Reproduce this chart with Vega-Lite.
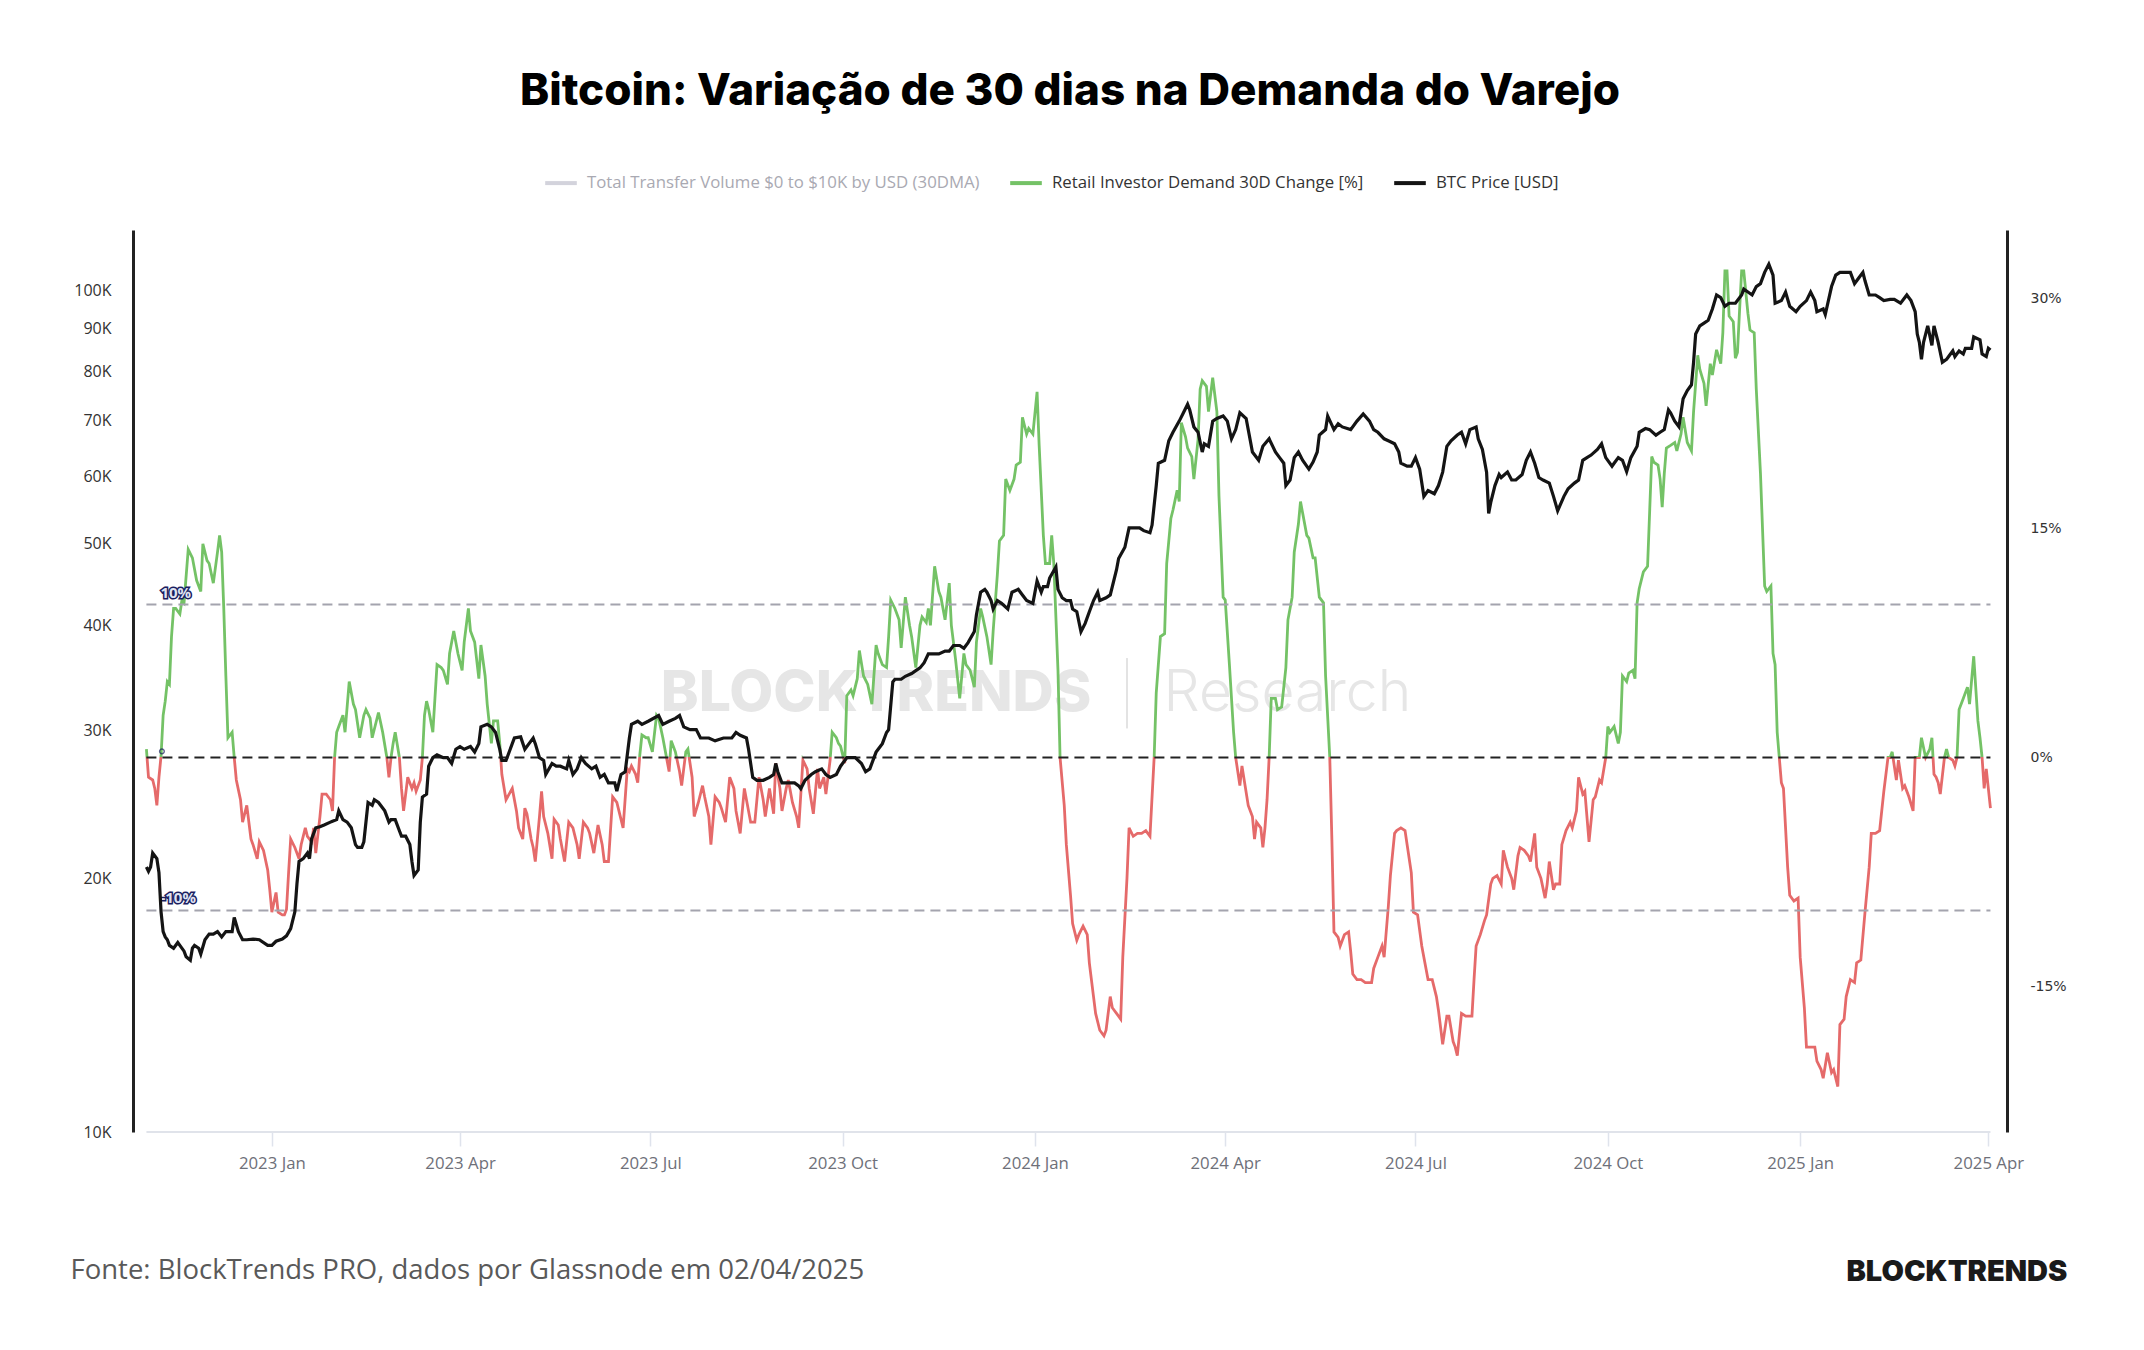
{
  "$schema": "https://vega.github.io/schema/vega-lite/v6.json",
  "width": 1874,
  "height": 902,
  "autosize": {"type": "none"},
  "padding": {"left": 133, "top": 230, "right": 137, "bottom": 218},
  "background": "#ffffff",
  "config": {
    "view": {"stroke": null},
    "axis": {"labelFlush": false, "labelBound": false}
  },
  "title": {
    "text": "Bitcoin: Variação de 30 dias na Demanda do Varejo",
    "font": "Inter",
    "fontSize": 44,
    "fontWeight": 800,
    "color": "#000000",
    "anchor": "middle",
    "frame": "group",
    "offset": 51
  },
  "datasets": {
    "price": [
      {"date":"2022-11-02","price":20640},{"date":"2022-11-03","price":20400},{"date":"2022-11-04","price":20640},{"date":"2022-11-05","price":21450},{"date":"2022-11-07","price":21120},{"date":"2022-11-08","price":20330},{"date":"2022-11-09","price":18260},{"date":"2022-11-10","price":17300},{"date":"2022-11-11","price":17050},{"date":"2022-11-12","price":16920},{"date":"2022-11-13","price":16660},{"date":"2022-11-15","price":16530},{"date":"2022-11-17","price":16790},{"date":"2022-11-18","price":16660},{"date":"2022-11-20","price":16400},{"date":"2022-11-21","price":16150},{"date":"2022-11-23","price":16000},{"date":"2022-11-24","price":16530},{"date":"2022-11-25","price":16660},{"date":"2022-11-27","price":16530},{"date":"2022-11-28","price":16270},{"date":"2022-11-30","price":16920},
      {"date":"2022-12-02","price":17180},{"date":"2022-12-04","price":17180},{"date":"2022-12-06","price":17300},{"date":"2022-12-08","price":17050},{"date":"2022-12-10","price":17300},{"date":"2022-12-13","price":17300},{"date":"2022-12-14","price":17980},{"date":"2022-12-16","price":17300},{"date":"2022-12-18","price":16920},{"date":"2022-12-20","price":16920},{"date":"2022-12-23","price":16950},{"date":"2022-12-26","price":16920},{"date":"2022-12-30","price":16660},
      {"date":"2023-01-01","price":16660},{"date":"2023-01-03","price":16850},{"date":"2023-01-06","price":16950},{"date":"2023-01-08","price":17100},{"date":"2023-01-10","price":17440},{"date":"2023-01-12","price":18260},{"date":"2023-01-13","price":19710},{"date":"2023-01-14","price":20960},{"date":"2023-01-16","price":21120},{"date":"2023-01-18","price":21450},{"date":"2023-01-19","price":21120},{"date":"2023-01-20","price":22290},{"date":"2023-01-22","price":22980},{"date":"2023-01-24","price":23050},{"date":"2023-01-26","price":23160},{"date":"2023-01-29","price":23340},{"date":"2023-01-30","price":23400},
      {"date":"2023-02-01","price":23500},{"date":"2023-02-02","price":24070},{"date":"2023-02-04","price":23500},{"date":"2023-02-06","price":23340},{"date":"2023-02-08","price":22980},{"date":"2023-02-10","price":21950},{"date":"2023-02-11","price":21780},{"date":"2023-02-13","price":21780},{"date":"2023-02-14","price":22120},{"date":"2023-02-16","price":24630},{"date":"2023-02-18","price":24440},{"date":"2023-02-19","price":24820},{"date":"2023-02-21","price":24630},{"date":"2023-02-22","price":24440},{"date":"2023-02-24","price":24070},{"date":"2023-02-26","price":23340},{"date":"2023-02-27","price":23500},
      {"date":"2023-03-01","price":23500},{"date":"2023-03-03","price":22800},{"date":"2023-03-04","price":22460},{"date":"2023-03-06","price":22460},{"date":"2023-03-08","price":21950},{"date":"2023-03-09","price":20960},{"date":"2023-03-10","price":20170},{"date":"2023-03-12","price":20480},{"date":"2023-03-13","price":23340},{"date":"2023-03-14","price":25000},{"date":"2023-03-16","price":25200},{"date":"2023-03-17","price":27200},{"date":"2023-03-19","price":27840},{"date":"2023-03-21","price":28050},{"date":"2023-03-24","price":27840},{"date":"2023-03-26","price":27840},{"date":"2023-03-28","price":27400},{"date":"2023-03-30","price":28490},
      {"date":"2023-04-01","price":28700},{"date":"2023-04-03","price":28490},{"date":"2023-04-06","price":28700},{"date":"2023-04-08","price":28270},{"date":"2023-04-10","price":28930},{"date":"2023-04-11","price":30290},{"date":"2023-04-14","price":30500},{"date":"2023-04-16","price":30290},{"date":"2023-04-18","price":29830},{"date":"2023-04-20","price":28490},{"date":"2023-04-21","price":27630},{"date":"2023-04-23","price":27630},{"date":"2023-04-27","price":29380},{"date":"2023-04-30","price":29470},
      {"date":"2023-05-02","price":28490},{"date":"2023-05-04","price":28930},{"date":"2023-05-06","price":29380},{"date":"2023-05-07","price":28930},{"date":"2023-05-09","price":27840},{"date":"2023-05-11","price":27630},{"date":"2023-05-12","price":26590},{"date":"2023-05-15","price":27400},{"date":"2023-05-17","price":27200},{"date":"2023-05-19","price":27200},{"date":"2023-05-22","price":27000},{"date":"2023-05-23","price":27630},{"date":"2023-05-25","price":26590},{"date":"2023-05-27","price":27000},{"date":"2023-05-29","price":27840},{"date":"2023-05-31","price":27400},
      {"date":"2023-06-03","price":27000},{"date":"2023-06-05","price":27200},{"date":"2023-06-07","price":26380},{"date":"2023-06-09","price":26590},{"date":"2023-06-11","price":25980},{"date":"2023-06-14","price":25980},{"date":"2023-06-15","price":25400},{"date":"2023-06-17","price":26590},{"date":"2023-06-19","price":26790},{"date":"2023-06-21","price":29380},{"date":"2023-06-22","price":30500},{"date":"2023-06-25","price":30760},{"date":"2023-06-27","price":30500},{"date":"2023-06-30","price":30760},
      {"date":"2023-07-05","price":31240},{"date":"2023-07-07","price":30500},{"date":"2023-07-10","price":30760},{"date":"2023-07-13","price":31000},{"date":"2023-07-15","price":31240},{"date":"2023-07-17","price":30290},{"date":"2023-07-20","price":30060},{"date":"2023-07-23","price":30060},{"date":"2023-07-25","price":29380},{"date":"2023-07-29","price":29380},
      {"date":"2023-08-01","price":29150},{"date":"2023-08-05","price":29380},{"date":"2023-08-09","price":29380},{"date":"2023-08-11","price":29830},{"date":"2023-08-13","price":29600},{"date":"2023-08-16","price":29380},{"date":"2023-08-17","price":28490},{"date":"2023-08-19","price":26380},{"date":"2023-08-21","price":26170},{"date":"2023-08-24","price":26170},{"date":"2023-08-27","price":26380},{"date":"2023-08-29","price":26590},{"date":"2023-08-30","price":27400},{"date":"2023-08-31","price":26790},
      {"date":"2023-09-02","price":25980},{"date":"2023-09-05","price":25980},{"date":"2023-09-08","price":25980},{"date":"2023-09-10","price":25770},{"date":"2023-09-11","price":25570},{"date":"2023-09-13","price":26170},{"date":"2023-09-16","price":26590},{"date":"2023-09-18","price":26790},{"date":"2023-09-21","price":27000},{"date":"2023-09-23","price":26590},{"date":"2023-09-25","price":26380},{"date":"2023-09-28","price":26590},{"date":"2023-09-30","price":27200},
      {"date":"2023-10-03","price":27840},{"date":"2023-10-05","price":27840},{"date":"2023-10-07","price":27840},{"date":"2023-10-10","price":27400},{"date":"2023-10-12","price":26790},{"date":"2023-10-14","price":27000},{"date":"2023-10-16","price":27840},{"date":"2023-10-17","price":28270},{"date":"2023-10-18","price":28490},{"date":"2023-10-20","price":28930},{"date":"2023-10-22","price":29830},{"date":"2023-10-23","price":30060},{"date":"2023-10-25","price":34250},{"date":"2023-10-26","price":34500},{"date":"2023-10-29","price":34500},{"date":"2023-10-31","price":34780},
      {"date":"2023-11-03","price":35050},{"date":"2023-11-05","price":35320},{"date":"2023-11-07","price":35590},{"date":"2023-11-09","price":36100},{"date":"2023-11-11","price":36980},{"date":"2023-11-14","price":36980},{"date":"2023-11-16","price":36980},{"date":"2023-11-19","price":37270},{"date":"2023-11-21","price":37270},{"date":"2023-11-23","price":37840},{"date":"2023-11-26","price":37840},{"date":"2023-11-28","price":37550},{"date":"2023-11-30","price":38140},
      {"date":"2023-12-03","price":39320},{"date":"2023-12-04","price":41170},{"date":"2023-12-06","price":43780},{"date":"2023-12-08","price":44120},{"date":"2023-12-09","price":43780},{"date":"2023-12-11","price":42790},{"date":"2023-12-12","price":41810},{"date":"2023-12-14","price":42790},{"date":"2023-12-16","price":42460},{"date":"2023-12-19","price":41810},{"date":"2023-12-21","price":43780},{"date":"2023-12-24","price":44120},{"date":"2023-12-26","price":43450},{"date":"2023-12-28","price":42790},{"date":"2023-12-31","price":42460},
      {"date":"2024-01-02","price":45150},{"date":"2024-01-04","price":43780},{"date":"2024-01-05","price":44460},{"date":"2024-01-07","price":44460},{"date":"2024-01-08","price":45500},{"date":"2024-01-11","price":46900},{"date":"2024-01-12","price":44120},{"date":"2024-01-14","price":43120},{"date":"2024-01-16","price":42790},{"date":"2024-01-18","price":42790},{"date":"2024-01-19","price":41810},{"date":"2024-01-21","price":41500},{"date":"2024-01-23","price":39300},{"date":"2024-01-25","price":40200},{"date":"2024-01-27","price":41500},{"date":"2024-01-29","price":42790},{"date":"2024-01-31","price":43780},
      {"date":"2024-02-01","price":42790},{"date":"2024-02-04","price":43120},{"date":"2024-02-06","price":43450},{"date":"2024-02-09","price":46550},{"date":"2024-02-10","price":48000},{"date":"2024-02-13","price":49500},{"date":"2024-02-15","price":52200},{"date":"2024-02-17","price":52200},{"date":"2024-02-20","price":52200},{"date":"2024-02-22","price":51800},{"date":"2024-02-25","price":51500},{"date":"2024-02-26","price":52600},{"date":"2024-02-28","price":58600},{"date":"2024-02-29","price":62300},
      {"date":"2024-03-03","price":62800},{"date":"2024-03-05","price":66250},{"date":"2024-03-07","price":67800},{"date":"2024-03-10","price":69900},{"date":"2024-03-12","price":71500},{"date":"2024-03-14","price":73200},{"date":"2024-03-15","price":72100},{"date":"2024-03-17","price":68800},{"date":"2024-03-19","price":67800},{"date":"2024-03-21","price":64240},{"date":"2024-03-22","price":65700},{"date":"2024-03-24","price":65240},{"date":"2024-03-26","price":69900},{"date":"2024-03-28","price":70400},{"date":"2024-03-31","price":70900},
      {"date":"2024-04-02","price":69900},{"date":"2024-04-04","price":66600},{"date":"2024-04-06","price":68300},{"date":"2024-04-08","price":71500},{"date":"2024-04-11","price":70400},{"date":"2024-04-13","price":66250},{"date":"2024-04-14","price":64240},{"date":"2024-04-17","price":62800},{"date":"2024-04-19","price":65240},{"date":"2024-04-22","price":66600},{"date":"2024-04-25","price":64240},{"date":"2024-04-27","price":63260},{"date":"2024-04-29","price":62300},{"date":"2024-04-30","price":58600},
      {"date":"2024-05-02","price":59500},{"date":"2024-05-04","price":63260},{"date":"2024-05-06","price":64240},{"date":"2024-05-08","price":62800},{"date":"2024-05-11","price":61300},{"date":"2024-05-13","price":62500},{"date":"2024-05-15","price":64240},{"date":"2024-05-16","price":67300},{"date":"2024-05-19","price":68300},{"date":"2024-05-20","price":70900},{"date":"2024-05-23","price":68300},{"date":"2024-05-25","price":69400},{"date":"2024-05-27","price":68800},{"date":"2024-05-31","price":68300},
      {"date":"2024-06-03","price":69900},{"date":"2024-06-06","price":71300},{"date":"2024-06-09","price":69900},{"date":"2024-06-11","price":68300},{"date":"2024-06-13","price":67800},{"date":"2024-06-16","price":66600},{"date":"2024-06-18","price":66250},{"date":"2024-06-21","price":65700},{"date":"2024-06-23","price":64240},{"date":"2024-06-24","price":62300},{"date":"2024-06-27","price":61800},{"date":"2024-06-29","price":61800},
      {"date":"2024-07-01","price":63260},{"date":"2024-07-03","price":61300},{"date":"2024-07-05","price":56900},{"date":"2024-07-07","price":57800},{"date":"2024-07-10","price":57300},{"date":"2024-07-12","price":58600},{"date":"2024-07-14","price":60800},{"date":"2024-07-16","price":65240},{"date":"2024-07-18","price":66250},{"date":"2024-07-21","price":67300},{"date":"2024-07-23","price":67800},{"date":"2024-07-25","price":65700},{"date":"2024-07-27","price":68300},{"date":"2024-07-30","price":68800},{"date":"2024-07-31","price":66600},
      {"date":"2024-08-02","price":64700},{"date":"2024-08-04","price":60800},{"date":"2024-08-05","price":54300},{"date":"2024-08-06","price":55960},{"date":"2024-08-08","price":58600},{"date":"2024-08-10","price":60400},{"date":"2024-08-11","price":59900},{"date":"2024-08-14","price":60800},{"date":"2024-08-16","price":59500},{"date":"2024-08-18","price":59500},{"date":"2024-08-21","price":60400},{"date":"2024-08-23","price":62800},{"date":"2024-08-25","price":64240},{"date":"2024-08-27","price":62300},{"date":"2024-08-29","price":59900},{"date":"2024-08-31","price":59500},
      {"date":"2024-09-03","price":59000},{"date":"2024-09-05","price":56900},{"date":"2024-09-07","price":54700},{"date":"2024-09-10","price":56900},{"date":"2024-09-12","price":58100},{"date":"2024-09-15","price":59000},{"date":"2024-09-17","price":59500},{"date":"2024-09-19","price":62800},{"date":"2024-09-21","price":63260},{"date":"2024-09-23","price":63700},{"date":"2024-09-26","price":64700},{"date":"2024-09-28","price":65700},{"date":"2024-09-30","price":63260},
      {"date":"2024-10-03","price":61800},{"date":"2024-10-04","price":62300},{"date":"2024-10-06","price":63260},{"date":"2024-10-08","price":62800},{"date":"2024-10-10","price":60860},{"date":"2024-10-12","price":63260},{"date":"2024-10-15","price":65240},{"date":"2024-10-16","price":67800},{"date":"2024-10-19","price":68500},{"date":"2024-10-21","price":68300},{"date":"2024-10-24","price":67270},{"date":"2024-10-26","price":67800},{"date":"2024-10-28","price":68300},{"date":"2024-10-30","price":72070},{"date":"2024-10-31","price":71500},
      {"date":"2024-11-02","price":69900},{"date":"2024-11-04","price":68840},{"date":"2024-11-06","price":74300},{"date":"2024-11-08","price":76000},{"date":"2024-11-10","price":77200},{"date":"2024-11-11","price":82100},{"date":"2024-11-12","price":88700},{"date":"2024-11-14","price":90700},{"date":"2024-11-16","price":91400},{"date":"2024-11-18","price":92100},{"date":"2024-11-20","price":95000},{"date":"2024-11-22","price":98700},{"date":"2024-11-24","price":98000},{"date":"2024-11-26","price":95700},{"date":"2024-11-28","price":96500},{"date":"2024-11-29","price":96500},
      {"date":"2024-12-01","price":96500},{"date":"2024-12-04","price":98700},{"date":"2024-12-05","price":100300},{"date":"2024-12-07","price":99500},{"date":"2024-12-09","price":98700},{"date":"2024-12-11","price":101000},{"date":"2024-12-13","price":101800},{"date":"2024-12-15","price":105000},{"date":"2024-12-17","price":107400},{"date":"2024-12-19","price":104200},{"date":"2024-12-20","price":96500},{"date":"2024-12-23","price":97200},{"date":"2024-12-25","price":99500},{"date":"2024-12-27","price":95700},{"date":"2024-12-30","price":94300},
      {"date":"2025-01-01","price":95700},{"date":"2025-01-04","price":97200},{"date":"2025-01-06","price":99500},{"date":"2025-01-08","price":97200},{"date":"2025-01-09","price":94300},{"date":"2025-01-12","price":95000},{"date":"2025-01-13","price":93570},{"date":"2025-01-16","price":101000},{"date":"2025-01-18","price":104200},{"date":"2025-01-20","price":105000},{"date":"2025-01-23","price":105000},{"date":"2025-01-25","price":105000},{"date":"2025-01-27","price":101800},{"date":"2025-01-29","price":103400},{"date":"2025-01-31","price":105000},
      {"date":"2025-02-01","price":102600},{"date":"2025-02-03","price":98700},{"date":"2025-02-06","price":98700},{"date":"2025-02-08","price":98000},{"date":"2025-02-10","price":97200},{"date":"2025-02-13","price":97500},{"date":"2025-02-15","price":97500},{"date":"2025-02-18","price":96500},{"date":"2025-02-21","price":98700},{"date":"2025-02-23","price":97200},{"date":"2025-02-25","price":94300},{"date":"2025-02-26","price":88700},{"date":"2025-02-27","price":86700},{"date":"2025-02-28","price":82760},
      {"date":"2025-03-01","price":86700},{"date":"2025-03-03","price":90700},{"date":"2025-03-05","price":86000},{"date":"2025-03-06","price":90700},{"date":"2025-03-07","price":88700},{"date":"2025-03-08","price":86700},{"date":"2025-03-10","price":82100},{"date":"2025-03-12","price":82760},{"date":"2025-03-13","price":83400},{"date":"2025-03-15","price":84700},{"date":"2025-03-16","price":83400},{"date":"2025-03-18","price":84700},{"date":"2025-03-20","price":84000},{"date":"2025-03-21","price":85300},{"date":"2025-03-24","price":85300},{"date":"2025-03-25","price":88000},{"date":"2025-03-28","price":87300},{"date":"2025-03-29","price":84000},{"date":"2025-03-31","price":83400},{"date":"2025-04-01","price":85300},{"date":"2025-04-02","price":84900}
    ],
    "demand": [
      {"date":"2022-11-02","pct":0.55},{"date":"2022-11-03","pct":-1.29},{"date":"2022-11-05","pct":-1.47},{"date":"2022-11-06","pct":-2.02},{"date":"2022-11-07","pct":-3.13},{"date":"2022-11-08","pct":-1.29},{"date":"2022-11-09","pct":0.1},{"date":"2022-11-10","pct":2.76},{"date":"2022-11-11","pct":3.68},{"date":"2022-11-12","pct":4.96},{"date":"2022-11-13","pct":4.78},{"date":"2022-11-14","pct":7.9},{"date":"2022-11-15","pct":9.74},{"date":"2022-11-16","pct":9.74},{"date":"2022-11-18","pct":9.38},{"date":"2022-11-19","pct":10.29},{"date":"2022-11-20","pct":10.11},{"date":"2022-11-22","pct":13.6},{"date":"2022-11-24","pct":13.05},{"date":"2022-11-26","pct":11.58},{"date":"2022-11-28","pct":10.85},{"date":"2022-11-29","pct":13.97},
      {"date":"2022-12-01","pct":12.87},{"date":"2022-12-02","pct":12.68},{"date":"2022-12-04","pct":11.4},{"date":"2022-12-06","pct":13.42},{"date":"2022-12-07","pct":14.52},{"date":"2022-12-08","pct":13.42},{"date":"2022-12-09","pct":9.74},{"date":"2022-12-10","pct":5.33},{"date":"2022-12-11","pct":1.29},{"date":"2022-12-13","pct":1.65},{"date":"2022-12-14","pct":0},{"date":"2022-12-15","pct":-1.47},{"date":"2022-12-17","pct":-2.76},{"date":"2022-12-18","pct":-4.23},{"date":"2022-12-20","pct":-3.13},{"date":"2022-12-22","pct":-5.33},{"date":"2022-12-23","pct":-5.7},{"date":"2022-12-25","pct":-6.62},{"date":"2022-12-26","pct":-5.51},{"date":"2022-12-28","pct":-6.07},{"date":"2022-12-30","pct":-7.35},{"date":"2022-12-31","pct":-8.64},
      {"date":"2023-01-01","pct":-10.11},{"date":"2023-01-03","pct":-8.82},{"date":"2023-01-04","pct":-10.11},{"date":"2023-01-06","pct":-10.29},{"date":"2023-01-07","pct":-10.29},{"date":"2023-01-08","pct":-9.93},{"date":"2023-01-09","pct":-7.54},{"date":"2023-01-10","pct":-5.33},{"date":"2023-01-12","pct":-5.88},{"date":"2023-01-14","pct":-6.62},{"date":"2023-01-15","pct":-5.7},{"date":"2023-01-17","pct":-4.6},{"date":"2023-01-18","pct":-5.15},{"date":"2023-01-20","pct":-5.51},{"date":"2023-01-21","pct":-4.6},{"date":"2023-01-22","pct":-6.25},{"date":"2023-01-24","pct":-3.86},{"date":"2023-01-25","pct":-2.39},{"date":"2023-01-27","pct":-2.39},{"date":"2023-01-29","pct":-2.76},{"date":"2023-01-30","pct":-3.49},{"date":"2023-01-31","pct":0},
      {"date":"2023-02-01","pct":1.65},{"date":"2023-02-02","pct":2.02},{"date":"2023-02-04","pct":2.76},{"date":"2023-02-05","pct":1.65},{"date":"2023-02-07","pct":4.96},{"date":"2023-02-09","pct":3.49},{"date":"2023-02-10","pct":3.13},{"date":"2023-02-12","pct":1.29},{"date":"2023-02-14","pct":2.76},{"date":"2023-02-15","pct":3.13},{"date":"2023-02-17","pct":2.57},{"date":"2023-02-18","pct":1.29},{"date":"2023-02-21","pct":2.94},{"date":"2023-02-23","pct":1.65},{"date":"2023-02-25","pct":0},{"date":"2023-02-26","pct":-1.29},{"date":"2023-02-27","pct":0},{"date":"2023-02-28","pct":0.92},
      {"date":"2023-03-01","pct":1.65},{"date":"2023-03-03","pct":0},{"date":"2023-03-04","pct":-2.02},{"date":"2023-03-05","pct":-3.49},{"date":"2023-03-07","pct":-1.29},{"date":"2023-03-09","pct":-2.02},{"date":"2023-03-10","pct":-1.65},{"date":"2023-03-11","pct":-2.21},{"date":"2023-03-13","pct":-1.47},{"date":"2023-03-14","pct":0},{"date":"2023-03-15","pct":2.76},{"date":"2023-03-16","pct":3.68},{"date":"2023-03-17","pct":3.13},{"date":"2023-03-19","pct":1.65},{"date":"2023-03-20","pct":3.86},{"date":"2023-03-21","pct":6.07},{"date":"2023-03-23","pct":5.88},{"date":"2023-03-24","pct":5.7},{"date":"2023-03-26","pct":4.78},{"date":"2023-03-27","pct":6.8},{"date":"2023-03-29","pct":8.27},{"date":"2023-03-30","pct":7.54},{"date":"2023-03-31","pct":6.8},
      {"date":"2023-04-02","pct":5.7},{"date":"2023-04-03","pct":7.54},{"date":"2023-04-05","pct":9.74},{"date":"2023-04-06","pct":8.27},{"date":"2023-04-08","pct":7.54},{"date":"2023-04-10","pct":5.15},{"date":"2023-04-11","pct":7.35},{"date":"2023-04-13","pct":5.33},{"date":"2023-04-14","pct":3.49},{"date":"2023-04-16","pct":0.92},{"date":"2023-04-17","pct":2.39},{"date":"2023-04-19","pct":2.39},{"date":"2023-04-20","pct":0.92},{"date":"2023-04-21","pct":-1.1},{"date":"2023-04-23","pct":-2.76},{"date":"2023-04-26","pct":-2.02},{"date":"2023-04-28","pct":-3.49},{"date":"2023-04-29","pct":-4.6},
      {"date":"2023-05-01","pct":-5.33},{"date":"2023-05-02","pct":-3.31},{"date":"2023-05-03","pct":-3.68},{"date":"2023-05-05","pct":-5.33},{"date":"2023-05-06","pct":-5.88},{"date":"2023-05-07","pct":-6.8},{"date":"2023-05-09","pct":-3.86},{"date":"2023-05-10","pct":-2.21},{"date":"2023-05-11","pct":-3.86},{"date":"2023-05-13","pct":-4.96},{"date":"2023-05-15","pct":-6.62},{"date":"2023-05-16","pct":-4.04},{"date":"2023-05-18","pct":-4.41},{"date":"2023-05-19","pct":-5.33},{"date":"2023-05-21","pct":-6.8},{"date":"2023-05-23","pct":-4.23},{"date":"2023-05-25","pct":-4.6},{"date":"2023-05-27","pct":-5.7},{"date":"2023-05-28","pct":-6.62},{"date":"2023-05-30","pct":-4.23},
      {"date":"2023-06-01","pct":-4.6},{"date":"2023-06-02","pct":-4.96},{"date":"2023-06-04","pct":-6.25},{"date":"2023-06-06","pct":-4.41},{"date":"2023-06-08","pct":-5.7},{"date":"2023-06-09","pct":-6.8},{"date":"2023-06-11","pct":-6.8},{"date":"2023-06-13","pct":-2.57},{"date":"2023-06-15","pct":-2.94},{"date":"2023-06-16","pct":-3.49},{"date":"2023-06-18","pct":-4.6},{"date":"2023-06-20","pct":-0.74},{"date":"2023-06-21","pct":-0.92},{"date":"2023-06-22","pct":-0.55},{"date":"2023-06-24","pct":-1.1},{"date":"2023-06-25","pct":-1.65},{"date":"2023-06-26","pct":0.18},{"date":"2023-06-27","pct":1.47},{"date":"2023-06-29","pct":1.29},{"date":"2023-06-30","pct":1.29},
      {"date":"2023-07-02","pct":0.37},{"date":"2023-07-04","pct":2.76},{"date":"2023-07-05","pct":2.57},{"date":"2023-07-07","pct":1.29},{"date":"2023-07-08","pct":0.55},{"date":"2023-07-10","pct":-0.92},{"date":"2023-07-11","pct":1.1},{"date":"2023-07-13","pct":0.37},{"date":"2023-07-15","pct":-0.92},{"date":"2023-07-16","pct":-1.84},{"date":"2023-07-18","pct":0.37},{"date":"2023-07-19","pct":0.55},{"date":"2023-07-21","pct":-1.29},{"date":"2023-07-22","pct":-3.86},{"date":"2023-07-24","pct":-2.94},{"date":"2023-07-26","pct":-1.84},{"date":"2023-07-27","pct":-2.57},{"date":"2023-07-29","pct":-3.86},{"date":"2023-07-30","pct":-5.7},
      {"date":"2023-08-01","pct":-2.57},{"date":"2023-08-03","pct":-2.94},{"date":"2023-08-04","pct":-3.31},{"date":"2023-08-06","pct":-4.23},{"date":"2023-08-08","pct":-1.29},{"date":"2023-08-10","pct":-2.02},{"date":"2023-08-11","pct":-3.49},{"date":"2023-08-13","pct":-4.96},{"date":"2023-08-15","pct":-2.02},{"date":"2023-08-16","pct":-2.76},{"date":"2023-08-18","pct":-4.23},{"date":"2023-08-20","pct":-4.23},{"date":"2023-08-22","pct":-1.29},{"date":"2023-08-24","pct":-2.76},{"date":"2023-08-25","pct":-3.86},{"date":"2023-08-27","pct":-2.02},{"date":"2023-08-29","pct":-3.68},{"date":"2023-08-30","pct":-0.37},
      {"date":"2023-09-01","pct":-2.02},{"date":"2023-09-02","pct":-3.49},{"date":"2023-09-04","pct":-2.02},{"date":"2023-09-05","pct":-1.47},{"date":"2023-09-07","pct":-2.94},{"date":"2023-09-09","pct":-3.86},{"date":"2023-09-10","pct":-4.6},{"date":"2023-09-12","pct":-0.18},{"date":"2023-09-14","pct":-0.74},{"date":"2023-09-15","pct":-2.02},{"date":"2023-09-17","pct":-3.68},{"date":"2023-09-19","pct":-0.74},{"date":"2023-09-20","pct":-2.02},{"date":"2023-09-22","pct":-1.29},{"date":"2023-09-23","pct":-2.39},{"date":"2023-09-25","pct":-0.18},{"date":"2023-09-26","pct":1.65},{"date":"2023-09-28","pct":1.29},{"date":"2023-09-29","pct":0.92},{"date":"2023-09-30","pct":0.74},
      {"date":"2023-10-02","pct":-0.37},{"date":"2023-10-03","pct":4.04},{"date":"2023-10-05","pct":4.41},{"date":"2023-10-06","pct":4.04},{"date":"2023-10-08","pct":5.15},{"date":"2023-10-09","pct":6.99},{"date":"2023-10-11","pct":5.33},{"date":"2023-10-13","pct":4.78},{"date":"2023-10-15","pct":3.49},{"date":"2023-10-17","pct":7.35},{"date":"2023-10-18","pct":6.8},{"date":"2023-10-20","pct":6.07},{"date":"2023-10-22","pct":5.88},{"date":"2023-10-23","pct":7.9},{"date":"2023-10-24","pct":10.29},{"date":"2023-10-26","pct":9.74},{"date":"2023-10-28","pct":9.0},{"date":"2023-10-29","pct":7.17},{"date":"2023-10-31","pct":10.48},
      {"date":"2023-11-02","pct":8.64},{"date":"2023-11-03","pct":7.9},{"date":"2023-11-05","pct":5.88},{"date":"2023-11-07","pct":8.64},{"date":"2023-11-08","pct":9.19},{"date":"2023-11-10","pct":8.82},{"date":"2023-11-11","pct":9.74},{"date":"2023-11-12","pct":8.64},{"date":"2023-11-14","pct":12.5},{"date":"2023-11-16","pct":10.85},{"date":"2023-11-17","pct":10.48},{"date":"2023-11-19","pct":9.0},{"date":"2023-11-21","pct":11.4},{"date":"2023-11-22","pct":8.64},{"date":"2023-11-24","pct":6.43},{"date":"2023-11-26","pct":3.86},{"date":"2023-11-28","pct":6.8},{"date":"2023-11-29","pct":6.07},
      {"date":"2023-12-01","pct":5.7},{"date":"2023-12-03","pct":4.6},{"date":"2023-12-04","pct":7.54},{"date":"2023-12-06","pct":9.74},{"date":"2023-12-07","pct":9.19},{"date":"2023-12-09","pct":7.9},{"date":"2023-12-11","pct":6.07},{"date":"2023-12-12","pct":8.27},{"date":"2023-12-14","pct":11.95},{"date":"2023-12-15","pct":14.15},{"date":"2023-12-17","pct":14.52},{"date":"2023-12-18","pct":18.2},{"date":"2023-12-20","pct":17.46},{"date":"2023-12-22","pct":18.2},{"date":"2023-12-23","pct":19.12},{"date":"2023-12-25","pct":19.3},{"date":"2023-12-26","pct":22.24},{"date":"2023-12-28","pct":21.14},{"date":"2023-12-29","pct":21.51},{"date":"2023-12-31","pct":21.14},
      {"date":"2024-01-02","pct":23.9},{"date":"2024-01-03","pct":20.4},{"date":"2024-01-05","pct":14.52},{"date":"2024-01-06","pct":12.68},{"date":"2024-01-08","pct":12.68},{"date":"2024-01-09","pct":14.52},{"date":"2024-01-10","pct":12.68},{"date":"2024-01-12","pct":5.7},{"date":"2024-01-13","pct":0},{"date":"2024-01-15","pct":-3.13},{"date":"2024-01-16","pct":-5.7},{"date":"2024-01-18","pct":-9.01},{"date":"2024-01-19","pct":-10.85},{"date":"2024-01-21","pct":-11.95},{"date":"2024-01-22","pct":-11.58},{"date":"2024-01-24","pct":-11.03},{"date":"2024-01-26","pct":-11.58},{"date":"2024-01-27","pct":-13.42},{"date":"2024-01-29","pct":-15.63},{"date":"2024-01-30","pct":-16.73},
      {"date":"2024-02-01","pct":-17.83},{"date":"2024-02-03","pct":-18.2},{"date":"2024-02-04","pct":-17.83},{"date":"2024-02-06","pct":-15.63},{"date":"2024-02-07","pct":-16.36},{"date":"2024-02-09","pct":-16.73},{"date":"2024-02-11","pct":-17.1},{"date":"2024-02-12","pct":-13.05},{"date":"2024-02-14","pct":-7.9},{"date":"2024-02-15","pct":-4.6},{"date":"2024-02-17","pct":-5.15},{"date":"2024-02-19","pct":-4.96},{"date":"2024-02-21","pct":-4.96},{"date":"2024-02-23","pct":-4.78},{"date":"2024-02-25","pct":-5.15},{"date":"2024-02-27","pct":0},{"date":"2024-02-28","pct":4.23},
      {"date":"2024-03-01","pct":7.9},{"date":"2024-03-03","pct":8.09},{"date":"2024-03-04","pct":12.68},{"date":"2024-03-06","pct":15.63},{"date":"2024-03-07","pct":16.18},{"date":"2024-03-09","pct":17.46},{"date":"2024-03-10","pct":16.73},{"date":"2024-03-11","pct":21.88},{"date":"2024-03-13","pct":20.96},{"date":"2024-03-14","pct":20.22},{"date":"2024-03-16","pct":19.67},{"date":"2024-03-17","pct":18.2},{"date":"2024-03-19","pct":20.77},{"date":"2024-03-20","pct":24.08},{"date":"2024-03-21","pct":24.63},{"date":"2024-03-23","pct":24.26},{"date":"2024-03-24","pct":22.61},{"date":"2024-03-26","pct":24.82},{"date":"2024-03-28","pct":22.61},{"date":"2024-03-29","pct":17.1},{"date":"2024-03-31","pct":10.48},
      {"date":"2024-04-01","pct":10.29},{"date":"2024-04-03","pct":6.07},{"date":"2024-04-05","pct":1.65},{"date":"2024-04-06","pct":0},{"date":"2024-04-08","pct":-1.84},{"date":"2024-04-09","pct":-0.55},{"date":"2024-04-12","pct":-3.13},{"date":"2024-04-14","pct":-3.86},{"date":"2024-04-15","pct":-5.33},{"date":"2024-04-16","pct":-4.23},{"date":"2024-04-18","pct":-4.6},{"date":"2024-04-19","pct":-5.88},{"date":"2024-04-20","pct":-4.6},{"date":"2024-04-21","pct":-2.76},{"date":"2024-04-22","pct":0},{"date":"2024-04-23","pct":3.86},{"date":"2024-04-25","pct":3.86},{"date":"2024-04-26","pct":3.13},{"date":"2024-04-28","pct":3.31},{"date":"2024-04-30","pct":5.88},
      {"date":"2024-05-01","pct":9.0},{"date":"2024-05-03","pct":10.48},{"date":"2024-05-04","pct":13.42},{"date":"2024-05-06","pct":15.26},{"date":"2024-05-07","pct":16.73},{"date":"2024-05-08","pct":15.99},{"date":"2024-05-10","pct":14.52},{"date":"2024-05-11","pct":14.34},{"date":"2024-05-13","pct":13.05},{"date":"2024-05-14","pct":13.05},{"date":"2024-05-16","pct":10.48},{"date":"2024-05-18","pct":10.11},{"date":"2024-05-19","pct":5.33},{"date":"2024-05-21","pct":0},{"date":"2024-05-22","pct":-5.33},{"date":"2024-05-23","pct":-11.4},{"date":"2024-05-25","pct":-11.76},{"date":"2024-05-26","pct":-12.32},{"date":"2024-05-28","pct":-11.58},{"date":"2024-05-30","pct":-11.4},{"date":"2024-05-31","pct":-12.68},
      {"date":"2024-06-01","pct":-14.15},{"date":"2024-06-03","pct":-14.52},{"date":"2024-06-05","pct":-14.52},{"date":"2024-06-07","pct":-14.71},{"date":"2024-06-08","pct":-14.71},{"date":"2024-06-10","pct":-14.71},{"date":"2024-06-11","pct":-13.79},{"date":"2024-06-13","pct":-13.05},{"date":"2024-06-15","pct":-12.32},{"date":"2024-06-16","pct":-13.05},{"date":"2024-06-18","pct":-9.74},{"date":"2024-06-19","pct":-7.72},{"date":"2024-06-21","pct":-4.96},{"date":"2024-06-22","pct":-4.78},{"date":"2024-06-24","pct":-4.6},{"date":"2024-06-26","pct":-4.78},{"date":"2024-06-27","pct":-5.7},{"date":"2024-06-29","pct":-7.54},{"date":"2024-06-30","pct":-10.11},
      {"date":"2024-07-02","pct":-10.29},{"date":"2024-07-04","pct":-12.32},{"date":"2024-07-05","pct":-13.05},{"date":"2024-07-07","pct":-14.52},{"date":"2024-07-09","pct":-14.52},{"date":"2024-07-11","pct":-15.63},{"date":"2024-07-12","pct":-16.54},{"date":"2024-07-14","pct":-18.75},{"date":"2024-07-16","pct":-16.91},{"date":"2024-07-17","pct":-16.91},{"date":"2024-07-19","pct":-18.57},{"date":"2024-07-20","pct":-18.93},{"date":"2024-07-21","pct":-19.49},{"date":"2024-07-23","pct":-16.73},{"date":"2024-07-25","pct":-16.91},{"date":"2024-07-28","pct":-16.91},{"date":"2024-07-29","pct":-14.52},{"date":"2024-07-30","pct":-12.32},
      {"date":"2024-08-01","pct":-11.58},{"date":"2024-08-03","pct":-10.66},{"date":"2024-08-04","pct":-10.29},{"date":"2024-08-06","pct":-8.27},{"date":"2024-08-07","pct":-7.9},{"date":"2024-08-09","pct":-7.72},{"date":"2024-08-11","pct":-8.27},{"date":"2024-08-12","pct":-6.07},{"date":"2024-08-14","pct":-7.17},{"date":"2024-08-16","pct":-7.9},{"date":"2024-08-17","pct":-8.64},{"date":"2024-08-19","pct":-6.43},{"date":"2024-08-20","pct":-5.88},{"date":"2024-08-22","pct":-6.07},{"date":"2024-08-24","pct":-6.43},{"date":"2024-08-25","pct":-6.8},{"date":"2024-08-27","pct":-4.96},{"date":"2024-08-28","pct":-7.17},{"date":"2024-08-30","pct":-7.9},
      {"date":"2024-09-01","pct":-9.19},{"date":"2024-09-02","pct":-8.27},{"date":"2024-09-03","pct":-6.8},{"date":"2024-09-05","pct":-8.64},{"date":"2024-09-06","pct":-8.27},{"date":"2024-09-08","pct":-8.27},{"date":"2024-09-09","pct":-5.7},{"date":"2024-09-11","pct":-4.78},{"date":"2024-09-13","pct":-4.23},{"date":"2024-09-14","pct":-4.6},{"date":"2024-09-16","pct":-3.49},{"date":"2024-09-17","pct":-1.29},{"date":"2024-09-19","pct":-2.39},{"date":"2024-09-20","pct":-2.21},{"date":"2024-09-22","pct":-5.51},{"date":"2024-09-24","pct":-2.76},{"date":"2024-09-25","pct":-2.57},{"date":"2024-09-27","pct":-1.47},{"date":"2024-09-28","pct":-1.65},{"date":"2024-09-30","pct":0},
      {"date":"2024-10-01","pct":2.02},{"date":"2024-10-02","pct":1.65},{"date":"2024-10-04","pct":2.02},{"date":"2024-10-06","pct":0.92},{"date":"2024-10-07","pct":1.65},{"date":"2024-10-08","pct":5.33},{"date":"2024-10-10","pct":4.96},{"date":"2024-10-11","pct":5.51},{"date":"2024-10-13","pct":5.7},{"date":"2024-10-14","pct":5.15},{"date":"2024-10-15","pct":10.11},{"date":"2024-10-16","pct":11.03},{"date":"2024-10-18","pct":12.13},{"date":"2024-10-20","pct":12.5},{"date":"2024-10-22","pct":19.67},{"date":"2024-10-23","pct":19.3},{"date":"2024-10-25","pct":19.12},{"date":"2024-10-26","pct":18.2},{"date":"2024-10-27","pct":16.36},{"date":"2024-10-28","pct":18.57},{"date":"2024-10-29","pct":20.22},{"date":"2024-10-31","pct":20.4},
      {"date":"2024-11-02","pct":20.59},{"date":"2024-11-03","pct":20.04},{"date":"2024-11-05","pct":21.14},{"date":"2024-11-06","pct":22.24},{"date":"2024-11-08","pct":20.59},{"date":"2024-11-10","pct":20.04},{"date":"2024-11-11","pct":22.61},{"date":"2024-11-13","pct":26.29},{"date":"2024-11-14","pct":25.37},{"date":"2024-11-16","pct":24.45},{"date":"2024-11-17","pct":22.98},{"date":"2024-11-19","pct":25.74},{"date":"2024-11-20","pct":25.0},{"date":"2024-11-22","pct":26.65},{"date":"2024-11-24","pct":25.74},{"date":"2024-11-25","pct":27.76},{"date":"2024-11-26","pct":31.8},{"date":"2024-11-27","pct":31.8},{"date":"2024-11-28","pct":28.86},{"date":"2024-11-30","pct":28.49},
      {"date":"2024-12-01","pct":26.1},{"date":"2024-12-02","pct":26.47},{"date":"2024-12-03","pct":29.23},{"date":"2024-12-04","pct":31.8},{"date":"2024-12-05","pct":31.8},{"date":"2024-12-07","pct":29.04},{"date":"2024-12-08","pct":27.94},{"date":"2024-12-10","pct":27.76},{"date":"2024-12-11","pct":24.08},{"date":"2024-12-13","pct":18.57},{"date":"2024-12-15","pct":11.21},{"date":"2024-12-16","pct":10.85},{"date":"2024-12-18","pct":11.21},{"date":"2024-12-19","pct":6.8},{"date":"2024-12-20","pct":6.07},{"date":"2024-12-21","pct":1.65},{"date":"2024-12-22","pct":0},{"date":"2024-12-23","pct":-1.65},{"date":"2024-12-24","pct":-2.02},{"date":"2024-12-26","pct":-7.17},{"date":"2024-12-27","pct":-9.01},{"date":"2024-12-29","pct":-9.38},{"date":"2024-12-31","pct":-9.19},
      {"date":"2025-01-01","pct":-13.05},{"date":"2025-01-03","pct":-16.36},{"date":"2025-01-04","pct":-18.93},{"date":"2025-01-06","pct":-18.93},{"date":"2025-01-08","pct":-18.93},{"date":"2025-01-09","pct":-19.85},{"date":"2025-01-11","pct":-20.4},{"date":"2025-01-12","pct":-20.96},{"date":"2025-01-14","pct":-19.3},{"date":"2025-01-16","pct":-20.59},{"date":"2025-01-17","pct":-20.4},{"date":"2025-01-19","pct":-21.51},{"date":"2025-01-20","pct":-17.46},{"date":"2025-01-22","pct":-17.1},{"date":"2025-01-23","pct":-15.63},{"date":"2025-01-25","pct":-14.52},{"date":"2025-01-27","pct":-14.71},{"date":"2025-01-28","pct":-13.42},{"date":"2025-01-30","pct":-13.24},
      {"date":"2025-02-01","pct":-10.11},{"date":"2025-02-03","pct":-7.17},{"date":"2025-02-04","pct":-4.96},{"date":"2025-02-06","pct":-4.96},{"date":"2025-02-08","pct":-4.78},{"date":"2025-02-10","pct":-2.21},{"date":"2025-02-12","pct":0},{"date":"2025-02-13","pct":0},{"date":"2025-02-14","pct":0.37},{"date":"2025-02-16","pct":-1.47},{"date":"2025-02-17","pct":-0.18},{"date":"2025-02-19","pct":-2.02},{"date":"2025-02-20","pct":-1.84},{"date":"2025-02-22","pct":-2.57},{"date":"2025-02-24","pct":-3.49},{"date":"2025-02-25","pct":0},{"date":"2025-02-27","pct":0},{"date":"2025-02-28","pct":1.29},
      {"date":"2025-03-02","pct":0},{"date":"2025-03-04","pct":0.55},{"date":"2025-03-05","pct":1.29},{"date":"2025-03-06","pct":-1.1},{"date":"2025-03-07","pct":-1.29},{"date":"2025-03-08","pct":-1.65},{"date":"2025-03-09","pct":-2.39},{"date":"2025-03-11","pct":0},{"date":"2025-03-12","pct":0.55},{"date":"2025-03-13","pct":0},{"date":"2025-03-15","pct":-0.18},{"date":"2025-03-16","pct":-0.55},{"date":"2025-03-17","pct":0},{"date":"2025-03-18","pct":3.13},{"date":"2025-03-20","pct":3.86},{"date":"2025-03-22","pct":4.6},{"date":"2025-03-23","pct":3.49},{"date":"2025-03-25","pct":6.62},{"date":"2025-03-27","pct":2.39},{"date":"2025-03-28","pct":1.29},{"date":"2025-03-29","pct":0},{"date":"2025-03-30","pct":-2.02},{"date":"2025-03-31","pct":-0.74},{"date":"2025-04-02","pct":-3.31}
    ],
    "levels": [
      {"level": 10, "label": "10%"},
      {"level": 0, "label": "0%"},
      {"level": -10, "label": "-10%"}
    ]
  },
  "layer": [
    {
      "layer": [
        {
          "data": {"values": [{}]},
          "mark": {"type": "text", "text": "BLOCKTRENDS", "font": "Inter", "fontWeight": 800, "fontSize": 57, "color": "#e6e6e6", "align": "center", "baseline": "middle"},
          "encoding": {
            "x": {"datum": {"year": 2023, "month": 10, "date": 17, "utc": true}, "type": "temporal"},
            "y": {"datum": 4.15, "type": "quantitative"}
          }
        },
        {
          "data": {"values": [{}]},
          "mark": {"type": "rule", "color": "#e3e3e3", "strokeWidth": 2},
          "encoding": {
            "x": {"datum": {"year": 2024, "month": 2, "date": 14, "utc": true}, "type": "temporal"},
            "y": {"datum": 6.5, "type": "quantitative"},
            "y2": {"datum": 1.9}
          }
        },
        {
          "data": {"values": [{}]},
          "mark": {"type": "text", "text": "Research", "font": "Inter", "fontWeight": 300, "fontSize": 57, "color": "#e6e6e6", "align": "left", "baseline": "middle"},
          "encoding": {
            "x": {"datum": {"year": 2024, "month": 3, "date": 2, "hours": 12, "utc": true}, "type": "temporal"},
            "y": {"datum": 4.15, "type": "quantitative"}
          }
        },
        {
          "data": {"name": "demand"},
          "mark": {
            "type": "line",
            "strokeWidth": 2.8,
            "stroke": {
              "gradient": "linear", "x1": 0, "y1": 0, "x2": 0, "y2": 1,
              "stops": [
                {"offset": 0, "color": "#74c266"},
                {"offset": 0.5965, "color": "#74c266"},
                {"offset": 0.5965, "color": "#e56a6a"},
                {"offset": 1, "color": "#e56a6a"}
              ]
            }
          },
          "encoding": {
            "x": {
              "field": "date", "type": "temporal",
              "scale": {"type": "utc", "domain": [{"year": 2022, "month": 10, "date": 26, "hours": 14, "utc": true}, {"year": 2025, "month": 4, "date": 9, "hours": 22, "utc": true}], "nice": false},
              "axis": {
                "values": [
                  {"year": 2023, "month": 1, "date": 1, "utc": true}, {"year": 2023, "month": 4, "date": 1, "utc": true},
                  {"year": 2023, "month": 7, "date": 1, "utc": true}, {"year": 2023, "month": 10, "date": 1, "utc": true},
                  {"year": 2024, "month": 1, "date": 1, "utc": true}, {"year": 2024, "month": 4, "date": 1, "utc": true},
                  {"year": 2024, "month": 7, "date": 1, "utc": true}, {"year": 2024, "month": 10, "date": 1, "utc": true},
                  {"year": 2025, "month": 1, "date": 1, "utc": true}, {"year": 2025, "month": 4, "date": 1, "utc": true}
                ],
                "labelExpr": "utcFormat(datum.value, '%Y %b')",
                "domain": false, "grid": false,
                "ticks": true, "tickSize": 14, "tickColor": "#dfe3ec", "tickWidth": 1.5,
                "labelFont": "Open Sans", "labelFontSize": 16.8, "labelColor": "#6e7079", "labelPadding": 9,
                "title": "Fonte: BlockTrends PRO, dados por Glassnode em 02/04/2025",
                "titleFont": "Open Sans", "titleFontWeight": 400, "titleFontSize": 27.5, "titleColor": "#595959",
                "titleX": -63, "titleY": 138, "titleAlign": "left", "titleBaseline": "middle", "titleAngle": 0
              }
            },
            "y": {
              "field": "pct", "type": "quantitative",
              "scale": {"domain": [-24.48, 34.48], "nice": false, "zero": false},
              "axis": {
                "orient": "right", "values": [-15, 0, 15, 30], "labelExpr": "datum.value + '%'",
                "domain": true, "domainColor": "#222222", "domainWidth": 3,
                "ticks": false, "tickSize": 0, "grid": false,
                "labelPadding": 23, "labelFont": "DejaVu Sans", "labelFontSize": 14, "labelColor": "#333333",
                "title": "BLOCKTRENDS", "titleFont": "Inter", "titleFontWeight": 900, "titleFontSize": 29, "titleColor": "#1a1a1a",
                "titleAngle": 0, "titleX": -161, "titleY": 1041, "titleAlign": "left", "titleBaseline": "middle"
              }
            }
          }
        },
        {
          "data": {"name": "levels"},
          "transform": [{"filter": "datum.level != 0"}],
          "mark": {"type": "rule", "color": "#a4a4ae", "strokeWidth": 2, "strokeDash": [10, 6]},
          "encoding": {
            "x": {"datum": {"year": 2022, "month": 11, "date": 2, "utc": true}, "type": "temporal"},
            "x2": {"datum": {"year": 2025, "month": 4, "date": 2, "utc": true}},
            "y": {"field": "level", "type": "quantitative"}
          }
        },
        {
          "data": {"name": "levels"},
          "transform": [{"filter": "datum.level == 0"}],
          "mark": {"type": "rule", "color": "#222222", "strokeWidth": 2, "strokeDash": [10, 6]},
          "encoding": {
            "x": {"datum": {"year": 2022, "month": 11, "date": 2, "utc": true}, "type": "temporal"},
            "x2": {"datum": {"year": 2025, "month": 4, "date": 2, "utc": true}},
            "y": {"field": "level", "type": "quantitative"}
          }
        },
        {
          "data": {"values": [{}]},
          "mark": {"type": "point", "shape": "circle", "size": 22, "filled": false, "stroke": "#1b2060", "strokeWidth": 1.4},
          "encoding": {
            "x": {"datum": {"year": 2022, "month": 11, "date": 9, "hours": 10, "utc": true}, "type": "temporal"},
            "y": {"datum": 0.4, "type": "quantitative"}
          }
        },
        {
          "data": {"name": "levels"},
          "transform": [{"filter": "datum.level != 0"}],
          "mark": {"type": "text", "font": "Open Sans", "fontSize": 15, "fontWeight": 700, "align": "left", "baseline": "middle", "dx": 14, "dy": -12, "stroke": "#1b2060", "strokeWidth": 3, "fill": "#1b2060"},
          "encoding": {
            "x": {"datum": {"year": 2022, "month": 11, "date": 2, "utc": true}, "type": "temporal"},
            "y": {"field": "level", "type": "quantitative"},
            "text": {"field": "label"}
          }
        },
        {
          "data": {"name": "levels"},
          "transform": [{"filter": "datum.level != 0"}],
          "mark": {"type": "text", "font": "Open Sans", "fontSize": 15, "fontWeight": 700, "align": "left", "baseline": "middle", "dx": 14, "dy": -12, "fill": "#dfe2f2"},
          "encoding": {
            "x": {"datum": {"year": 2022, "month": 11, "date": 2, "utc": true}, "type": "temporal"},
            "y": {"field": "level", "type": "quantitative"},
            "text": {"field": "label"}
          }
        }
      ]
    },
    {
      "layer": [
        {
          "data": {"values": [{}]},
          "mark": {"type": "rule", "color": "#e0e3ea", "strokeWidth": 2},
          "encoding": {
            "x": {"datum": {"year": 2022, "month": 11, "date": 2, "utc": true}, "type": "temporal"},
            "x2": {"datum": {"year": 2025, "month": 4, "date": 2, "utc": true}},
            "y": {"datum": 10000, "type": "quantitative"}
          }
        },
        {
          "data": {"name": "price"},
          "mark": {"type": "line", "strokeWidth": 3.2},
          "encoding": {
            "x": {"field": "date", "type": "temporal"},
            "y": {
              "field": "price", "type": "quantitative",
              "scale": {"type": "log", "domain": [10000, 117900], "nice": false, "zero": false},
              "axis": {
                "orient": "left", "values": [10000, 20000, 30000, 40000, 50000, 60000, 70000, 80000, 90000, 100000],
                "labelExpr": "(datum.value / 1000) + 'K'",
                "domain": true, "domainColor": "#222222", "domainWidth": 3,
                "ticks": false, "tickSize": 0, "grid": false,
                "labelPadding": 22, "labelFont": "Open Sans", "labelFontSize": 16, "labelColor": "#333333",
                "title": null
              }
            },
            "color": {
              "datum": "BTC Price [USD]",
              "scale": {
                "domain": ["Total Transfer Volume $0 to $10K by USD (30DMA)", "Retail Investor Demand 30D Change [%]", "BTC Price [USD]"],
                "range": ["#d3d3dc", "#74c266", "#141414"]
              },
              "legend": {
                "orient": "none", "legendX": 410, "legendY": -65, "direction": "horizontal",
                "title": null, "symbolType": "stroke", "symbolSize": 1000, "symbolStrokeWidth": 4,
                "labelFont": "Open Sans", "labelFontSize": 16.8, "labelColor": "#333333", "labelLimit": 0,
                "labelOffset": 8, "columnPadding": 22,
                "encode": {
                  "labels": {"update": {"fill": {"signal": "datum.label === 'Total Transfer Volume $0 to $10K by USD (30DMA)' ? '#a9a9b2' : '#333333'"}}}
                }
              }
            }
          }
        }
      ]
    }
  ],
  "resolve": {"scale": {"y": "independent"}}
}
